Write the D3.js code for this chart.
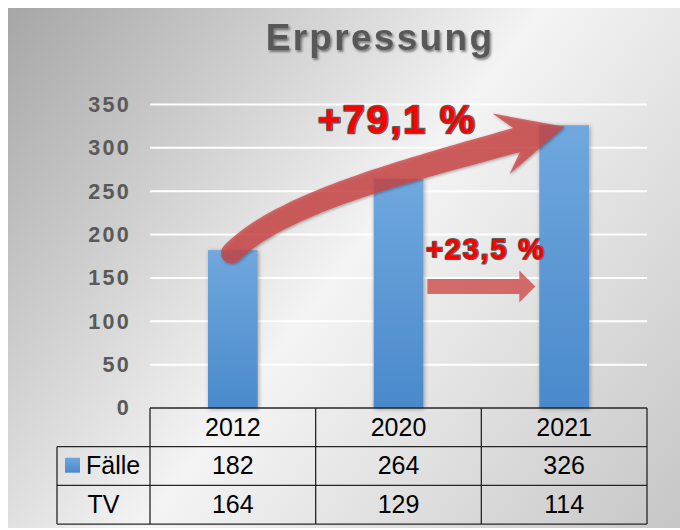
<!DOCTYPE html>
<html>
<head>
<meta charset="utf-8">
<script src="https://cdn.jsdelivr.net/npm/d3@7"></script>
<style>
  html, body { margin: 0; padding: 0; background: #fff; }
  svg { display: block; }
  text { font-family: "Liberation Sans", Arial, Helvetica, sans-serif; }
</style>
</head>
<body>
<svg id="chart" width="680" height="530"></svg>
<script>
// ---- data ----
const title = "Erpressung";
const categories = ["2012", "2020", "2021"];
const faelle = [182, 264, 326];
const tv = [164, 129, 114];
const rowLabels = ["Fälle", "TV"];
const yTicks = [0, 50, 100, 150, 200, 250, 300, 350];
const bigChangeLabel = "+79,1 %";
const smallChangeLabel = "+23,5 %";

// ---- layout ----
const W = 680, H = 530;
const plotLeft = 150, plotRight = 647, plotTop = 104.4, plotBottom = 408;
const svg = d3.select("#chart");
const defs = svg.append("defs");

// background gradient
const bg = defs.append("linearGradient").attr("id", "bgGrad")
  .attr("gradientUnits", "userSpaceOnUse")
  .attr("x1", 8).attr("y1", 8).attr("x2", 680).attr("y2", 528);
bg.append("stop").attr("offset", "0").attr("stop-color", "#a6a6a6");
bg.append("stop").attr("offset", "0.5").attr("stop-color", "#f4f4f4");
bg.append("stop").attr("offset", "1").attr("stop-color", "#c6c6c6");

// bar gradient
const bgBar = defs.append("linearGradient").attr("id", "barGrad")
  .attr("x1", 0).attr("y1", 0).attr("x2", 0).attr("y2", 1);
bgBar.append("stop").attr("offset", "0").attr("stop-color", "#70a8de");
bgBar.append("stop").attr("offset", "1").attr("stop-color", "#4a89cb");

// shadows
function shadow(id, dx, dy, sd, op) {
  const f = defs.append("filter").attr("id", id)
    .attr("x", "-30%").attr("y", "-30%").attr("width", "160%").attr("height", "160%");
  f.append("feDropShadow").attr("dx", dx).attr("dy", dy).attr("stdDeviation", sd)
    .attr("flood-color", "#000").attr("flood-opacity", op);
}
shadow("barShadow", 1, 1, 2.2, 0.35);
shadow("arrowShadow", 1, 1, 1.8, 0.45);
shadow("titleShadow", 1.5, 2, 1.3, 0.45);

svg.append("rect").attr("x", 8).attr("y", 8).attr("width", W - 8).attr("height", 520)
  .attr("fill", "url(#bgGrad)");

// ---- scales ----
const x = d3.scaleBand().domain(categories).range([plotLeft, plotRight])
  .paddingInner(0.7).paddingOuter(0.35);
const y = d3.scaleLinear().domain([0, 350]).range([plotBottom, plotTop]);
const step = x.step();
const colEdges = categories.map((c, i) => plotLeft + i * step);

// title
svg.append("text").attr("x", 380).attr("y", 49.5)
  .attr("text-anchor", "middle")
  .attr("font-size", 37).attr("font-weight", "bold")
  .attr("letter-spacing", 2.3)
  .attr("fill", "#595959")
  .attr("filter", "url(#titleShadow)")
  .text(title);

// gridlines
svg.append("g").selectAll("line").data(yTicks.filter(d => d > 0)).join("line")
  .attr("x1", plotLeft).attr("x2", plotRight)
  .attr("y1", d => y(d)).attr("y2", d => y(d))
  .attr("stroke", "#ffffff").attr("stroke-width", 2);

// y axis labels
const yAxis = d3.axisLeft(y).tickValues(yTicks).tickSize(0).tickPadding(0);
const ya = svg.append("g").attr("transform", "translate(131,0)").call(yAxis);
ya.select(".domain").remove();
ya.selectAll("text")
  .attr("font-family", "'Liberation Sans', Arial, sans-serif")
  .attr("font-size", 21.5).attr("font-weight", "bold")
  .attr("letter-spacing", 2.3)
  .attr("fill", "#595959");

// bars
svg.append("g").selectAll("rect").data(categories).join("rect")
  .attr("x", d => x(d)).attr("width", x.bandwidth())
  .attr("y", (d, i) => y(faelle[i]))
  .attr("height", (d, i) => y(0) - y(faelle[i]))
  .attr("fill", "url(#barGrad)")
  .attr("filter", "url(#barShadow)");

// ---- big curved arrow (2012 -> 2021) ----
const cx0 = x(categories[0]) + x.bandwidth() / 2;
const cx2 = x(categories[2]) + x.bandwidth() / 2;
const P0 = [cx0 - 1.5, y(faelle[0]) + 3];
const T = [cx2 + 0.5, y(faelle[2]) + 1.5];
const ang = -15.5 * Math.PI / 180;
const dv = [Math.cos(ang), Math.sin(ang)];
const nl = [dv[1], -dv[0]];
const P2 = [T[0] - 50 * dv[0], T[1] - 50 * dv[1]];
const a0 = -45 * Math.PI / 180;
const C1 = [P0[0] + 70 * Math.cos(a0), P0[1] + 70 * Math.sin(a0)];
const C2 = [P2[0] - 120 * dv[0], P2[1] - 120 * dv[1]];
function bez(t) {
  const u = 1 - t;
  const b0 = u * u * u, b1 = 3 * u * u * t, b2 = 3 * u * t * t, b3 = t * t * t;
  return [b0 * P0[0] + b1 * C1[0] + b2 * C2[0] + b3 * P2[0],
          b0 * P0[1] + b1 * C1[1] + b2 * C2[1] + b3 * P2[1]];
}
function bezD(t) {
  const u = 1 - t;
  const dx = 3 * u * u * (C1[0] - P0[0]) + 6 * u * t * (C2[0] - C1[0]) + 3 * t * t * (P2[0] - C2[0]);
  const dy = 3 * u * u * (C1[1] - P0[1]) + 6 * u * t * (C2[1] - C1[1]) + 3 * t * t * (P2[1] - C2[1]);
  const l = Math.hypot(dx, dy);
  return [dx / l, dy / l];
}
const N = 48, w0 = 21, w1 = 25;
const topPts = [], botPts = [];
for (let i = 0; i <= N; i++) {
  const t = i / N, p = bez(t), tg = bezD(t);
  const left = [tg[1], -tg[0]];
  const hw = (w0 + (w1 - w0) * t) / 2;
  topPts.push([p[0] + hw * left[0], p[1] + hw * left[1]]);
  botPts.push([p[0] - hw * left[0], p[1] - hw * left[1]]);
}
const hp = (al, an) => [T[0] + al * dv[0] + an * nl[0], T[1] + al * dv[1] + an * nl[1]];
const B1 = hp(-66, 32), B2 = hp(-66, -31);
let pathStr = "M" + topPts.map(p => p[0].toFixed(2) + "," + p[1].toFixed(2)).join("L");
pathStr += "L" + [B1, T, B2].map(p => p[0].toFixed(2) + "," + p[1].toFixed(2)).join("L");
pathStr += "L" + botPts.slice().reverse().map(p => p[0].toFixed(2) + "," + p[1].toFixed(2)).join("L");
pathStr += `A${w0 / 2},${w0 / 2} 0 0 1 ${topPts[0][0].toFixed(2)},${topPts[0][1].toFixed(2)}Z`;

const arrowFill = "#cc4040";
svg.append("path").attr("d", pathStr)
  .attr("fill", arrowFill).attr("fill-opacity", 0.75)
  .attr("filter", "url(#arrowShadow)");

// ---- small straight arrow (2020 -> 2021) ----
const sx0 = x(categories[1]) + x.bandwidth() + 4;
const sx1 = x(categories[2]) - 4;
const sy = y(140);
const sh = 7.5, hh = 16, hl = 16;
const small = d3.path();
small.moveTo(sx0, sy - sh);
small.lineTo(sx1 - hl, sy - sh);
small.lineTo(sx1 - hl, sy - hh);
small.lineTo(sx1, sy);
small.lineTo(sx1 - hl, sy + hh);
small.lineTo(sx1 - hl, sy + sh);
small.lineTo(sx0, sy + sh);
small.closePath();
svg.append("path").attr("d", small.toString())
  .attr("fill", arrowFill).attr("fill-opacity", 0.75);

// ---- change labels ----
function changeLabel(txt, xx, yy, size, sw) {
  svg.append("text").attr("x", xx).attr("y", yy)
    .attr("font-size", size).attr("font-weight", "bold")
    .attr("letter-spacing", 1.8)
    .attr("fill", "#ff0000")
    .attr("stroke", "#5a5a5a").attr("stroke-width", sw)
    .attr("paint-order", "stroke")
    .attr("stroke-linejoin", "round")
    .text(txt);
}
changeLabel(bigChangeLabel, 318, 133, 39.5, 2.6);
changeLabel(smallChangeLabel, 426, 258.5, 29, 2.2);

// ---- data table ----
const rowH = 38.7;
const tTop = y(0);
const tLeft = 57;
const tg = svg.append("g").attr("stroke", "#262626").attr("stroke-width", 1.3).attr("fill", "none");
// horizontal lines
tg.append("line").attr("x1", plotLeft).attr("x2", plotRight).attr("y1", tTop).attr("y2", tTop);
[1, 2, 3].forEach(r => {
  tg.append("line").attr("x1", tLeft).attr("x2", plotRight)
    .attr("y1", tTop + r * rowH).attr("y2", tTop + r * rowH);
});
// vertical lines
tg.append("line").attr("x1", tLeft).attr("x2", tLeft).attr("y1", tTop + rowH).attr("y2", tTop + 3 * rowH);
colEdges.concat([plotRight]).forEach(cx => {
  tg.append("line").attr("x1", cx).attr("x2", cx).attr("y1", tTop).attr("y2", tTop + 3 * rowH);
});

const cellText = svg.append("g").attr("font-size", 25).attr("fill", "#000").attr("text-anchor", "middle");
categories.forEach((c, i) => {
  const cx = x(c) + x.bandwidth() / 2;
  cellText.append("text").attr("x", cx).attr("y", tTop + 27.5).text(c);
  cellText.append("text").attr("x", cx).attr("y", tTop + rowH + 27.3).text(faelle[i]);
  cellText.append("text").attr("x", cx).attr("y", tTop + 2 * rowH + 27.3).text(tv[i]);
});
// row labels
svg.append("rect").attr("x", 65).attr("y", tTop + rowH + 11).attr("width", 15).attr("height", 15)
  .attr("fill", "url(#barGrad)");
svg.append("text").attr("x", 86).attr("y", tTop + rowH + 27.3)
  .attr("font-size", 25).attr("fill", "#000").text(rowLabels[0]);
svg.append("text").attr("x", (tLeft + plotLeft) / 2).attr("y", tTop + 2 * rowH + 27.3)
  .attr("font-size", 25).attr("fill", "#000").attr("text-anchor", "middle").text(rowLabels[1]);
</script>
</body>
</html>
